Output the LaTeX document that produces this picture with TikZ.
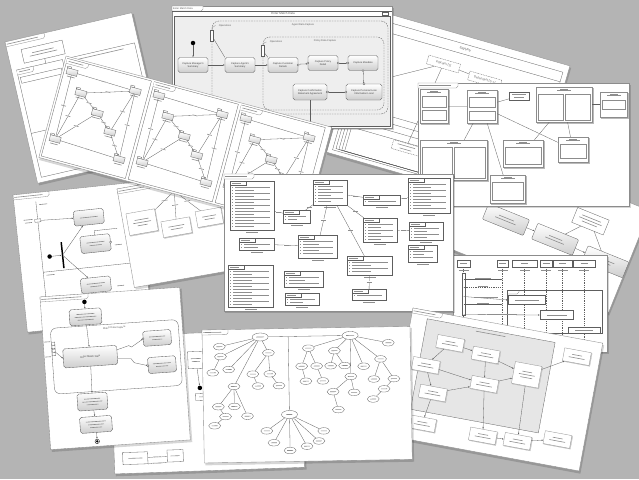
\documentclass[tikz,border=0pt]{standalone}
\usepackage{fontspec}
\setmainfont{Liberation Sans}
\usetikzlibrary{arrows.meta,calc,positioning,shadows,shapes.geometric}
\definecolor{DeskGray}{HTML}{B4B4B4}
\definecolor{SheetEdge}{HTML}{8C8C8C}
\definecolor{InkGray}{HTML}{5E5E5E}
\definecolor{ScribbleGray}{HTML}{8E8E8E}
\definecolor{BoxShade}{HTML}{CDCDCD}
\definecolor{PanelTint}{HTML}{EEEEEE}
\definecolor{FrameTint}{HTML}{E6E6E6}
\newcommand{\sheetfont}{\fontsize{2.5}{2.9}\selectfont}
\newcommand{\titlefont}{\fontsize{3}{3.5}\selectfont}
\newcommand{\scribble}[1]{\textcolor{ScribbleGray}{\rule{#1pt}{0.6pt}}}
\tikzset{
  sheet/.style={draw=SheetEdge,fill=white,line width=0.35pt},
  sheetshadow/.style={fill=black,opacity=0.16},
  tabedge/.style={draw=SheetEdge,fill=white,line width=0.3pt},
  tabtext/.style={anchor=west,inner sep=0pt,font=\sheetfont,text=InkGray},
  wire/.style={draw=InkGray,line width=0.3pt},
  flow/.style={wire,-{Latex[length=1.8pt,width=1.4pt]}},
  lifeline/.style={draw=InkGray,line width=0.25pt,dash pattern=on 1pt off 0.8pt},
  dashframe/.style={draw=InkGray,line width=0.35pt,dash pattern=on 1.6pt off 1pt,rounded corners=7pt},
  dashbox/.style={draw=InkGray,line width=0.3pt,dash pattern=on 1pt off 0.7pt,fill=white,font=\titlefont,text=InkGray,inner sep=1pt,minimum width=33pt,minimum height=9pt,align=center},
  actionbox/.style={draw=InkGray,line width=0.35pt,rounded corners=1.8pt,top color=white,bottom color=BoxShade,align=center,font=\sheetfont,text=black!75,inner sep=0.4pt,minimum width=30pt,minimum height=15pt},
  startdot/.style={circle,fill=black,inner sep=0pt,minimum size=4.5pt},
  enddot/.style={circle,draw=black,fill=white,inner sep=0pt,minimum size=4.5pt,line width=0.35pt},
  forkbar/.style={fill=black,inner sep=0pt,minimum width=1.5pt,minimum height=26pt},
  portdot/.style={circle,draw=InkGray,fill=white,inner sep=0pt,minimum size=2.2pt,line width=0.3pt},
  portbox/.style={draw=InkGray,fill=white,inner sep=0pt,minimum width=6pt,minimum height=3pt,line width=0.3pt},
  opsicon/.style={draw=InkGray,fill=white,inner sep=0pt,minimum width=3pt,minimum height=11pt,line width=0.3pt},
  pkgbox/.style={draw=InkGray,line width=0.3pt,top color=white,bottom color=BoxShade,minimum width=11pt,minimum height=6pt,inner sep=0pt},
  pkgtab/.style={draw=InkGray,line width=0.3pt,fill=white},
  compnode/.style={draw=SheetEdge,line width=0.3pt,fill=white,inner sep=0.5pt,align=center,font=\sheetfont,
    copy shadow={shadow xshift=0.8pt,shadow yshift=-0.8pt,fill=BoxShade,draw=SheetEdge!60,line width=0.2pt}},
  innerbox/.style={draw=SheetEdge,line width=0.25pt,fill=white},
  listbox/.style={draw=InkGray,line width=0.3pt,fill=white,inner sep=0pt,align=center,font=\sheetfont},
  procbox/.style={draw=InkGray,line width=0.3pt,rounded corners=1pt,top color=white,bottom color=BoxShade,minimum width=44pt,minimum height=17pt,align=center,font=\sheetfont,inner sep=0.5pt},
  notebox/.style={draw=InkGray,line width=0.3pt,fill=white,minimum width=34pt,minimum height=16pt,align=center,font=\sheetfont,inner sep=0.5pt},
  headbox/.style={draw=InkGray,line width=0.3pt,fill=white,minimum height=7pt,inner sep=0pt,font=\sheetfont},
  bubble/.style={ellipse,draw=InkGray,line width=0.3pt,fill=white,minimum width=12pt,minimum height=6.5pt,inner sep=0pt,font=\sheetfont},
  edgetag/.style={fill=white,inner sep=0.3pt,font=\sheetfont}
}
% one sheet of paper with its drop shadow, local origin at its top left corner
\newcommand{\papersheet}[2]{%
  \fill[sheetshadow] (1,1.6) rectangle (#1+1.8,#2+2.4);
  \draw[sheet] (0,0) rectangle (#1,#2);}
\newcommand{\frametab}[2]{%
  \draw[tabedge] (0,0) -- (#1,0) -- (#1,3.2) -- (#1-1.8,5) -- (0,5) -- cycle;
  \node[tabtext] (tablabel) at (1,2.6) {#2};}
% name, x1, y1, x2, y2
\newcommand{\listpanel}[5]{%
  \node[listbox,minimum width={#4-#2},minimum height={#5-#3}] (#1) at ({(#2+#4)/2},{(#3+#5)/2}) {};
  \draw[listbox] (#2,#3) rectangle ({#2+min(16,#4-#2-4)},#3+4);
  \fill[ScribbleGray] (#2+1.5,#3+2.2) rectangle ++(9,0.6);
  \pgfmathtruncatemacro{\rowcount}{max(1,(#5-#3-6)/3)}
  \foreach \rw in {1,...,\rowcount}{
    \fill[ScribbleGray] (#2+2,#3+4.2+3*\rw) rectangle ++(1.3,-1.3);
    \fill[ScribbleGray] (#2+4.5,#3+3.9+3*\rw) rectangle ++({(#4-#2-9)*(0.55+0.45*mod(\rw,2))},-0.6);}
  \fill[ScribbleGray] ({(#2+#4)/2-6},#5+2.2) rectangle ++(12,0.6);}
\newcommand{\comphead}[1]{%
  \fill[ScribbleGray] ($(#1.north)+(-4,1.8)$) rectangle ++(8,0.5);
  \fill[ScribbleGray] ($(#1.north)+(-7,3.4)$) rectangle ++(14,0.6);}
\newcommand{\compinner}[3]{%
  \draw[innerbox] ($(#1.north west)+(2,#2)$) rectangle ($(#1.south east)+(-2,-#3)$);}
\newcommand{\compsplit}[1]{%
  \draw[innerbox] ($(#1.north west)+(2,7)$) rectangle ($(#1.south)+(-1,-2)$);
  \draw[innerbox] ($(#1.north)+(1,7)$) rectangle ($(#1.south east)+(-2,-2)$);}

\begin{document}
\begin{tikzpicture}[x=1pt,y=-1pt]
  \useasboundingbox (0,0) rectangle (639,479);
  \clip (0,0) rectangle (639,479);
  \fill[DeskGray] (0,0) rectangle (639,479);

  % eligibility stack, back right
  \begin{scope}[shift={(368,8)},rotate=-16,transform shape]
    \papersheet{210}{150}
    \frametab{24}{Eligibility}
    \draw[wire] (5,8) rectangle (205,146);
    \draw[wire] (5,18) -- (205,18);
    \foreach \k in {0,1,2,3}
      \draw[wire] (8+3*\k,98+7*\k) rectangle (200-3*\k,144);
    \node[font=\titlefont,text=InkGray] (dtitle) at (105,13) {Eligibility};
    \node[dashbox] (dind) at (88,33) {Indicator [1]};
    \node[dashbox] (ddep) at (132,37) {Dependent [0..1]};
    \node[dashbox,minimum width=26pt] (dval) at (24,70) {\scribble{16}};
    \node[dashbox,minimum width=28pt] (dcond) at (75,124) {\scribble{18}\\\scribble{12}};
    \draw[wire] (dind) -- (ddep);
    \draw[wire] (dind) -- (dval);
    \draw[wire] (dind) -- (dcond);
  \end{scope}

  % eligibility summary, top left
  \begin{scope}[shift={(5,42)},rotate=13,transform shape]
    \papersheet{130}{145}
    \frametab{40}{\scribble{32}}
    \node[listbox,minimum width=42pt,minimum height=14pt] (aset) at (35,18) {\scribble{22}\\\scribble{28}};
    \draw[wire] (5,30) rectangle (52,140);
    \draw[wire] (58,30) rectangle (126,140);
    \draw[tabedge] (5,30) -- (22,30) -- (22,33) -- (20,35) -- (5,35);
    \fill[ScribbleGray] (7,32) rectangle ++(11,0.6);
    \fill[ScribbleGray] (64,33) rectangle ++(50,0.6);
    \draw[wire] (7,38) rectangle (49,44);
    \draw[wire] (5,95) -- (52,95);
    \coordinate (asplit) at (35,30);
    \draw[wire] (aset) -- (asplit);
  \end{scope}

  % enter match data
  \begin{scope}[shift={(172,6)}]
    \papersheet{220}{122}
    \frametab{31}{Enter Match Data}
    \draw[wire] (0,5) -- (220,5);
    \node[font=\titlefont,text=InkGray] (ctitle) at (111,7.6) {Enter Match Data};
    \draw[wire] (210,6.2) rectangle (216,9);
    \fill[PanelTint] (2,10) rectangle (218,120);
    \draw[wire] (2,10) rectangle (218,120);
    \draw[dashframe] (40,15) rectangle (216,108);
    \draw[dashframe] (91,31) rectangle (212,104);
    \node[font=\sheetfont,text=InkGray] (cagentlbl) at (131,19) {Agent Data Capture};
    \node[font=\sheetfont,text=InkGray] (cpolicylbl) at (153,35) {Policy Data Capture};
    \node[startdot] (cinit) at (21,37) {};
    \node[actionbox] (cmgr) at (21,59) {Capture Manager's\\Summary};
    \node[actionbox] (cagent) at (68,59) {Capture Agent's\\Summary};
    \node[actionbox] (ccust) at (111,59) {Capture Customer\\Details};
    \node[actionbox] (cpol) at (151,57) {Capture Policy\\Detail};
    \node[actionbox] (cmand) at (191,57) {Capture Mandate};
    \node[actionbox,minimum width=36pt,minimum height=16pt] (cloan) at (192,86) {Capture Personal Loan\\Information Local};
    \node[actionbox,minimum width=34pt,minimum height=16pt] (cconf) at (138,86) {Capture Confirmation\\Statement Agreement};
    \draw[flow] (cinit) -- (cmgr);
    \draw[flow] (cmgr) -- (cagent);
    \draw[flow] (cagent) -- (ccust);
    \draw[flow] (ccust) -- (cpol);
    \draw[flow] (cpol) -- (cmand);
    \draw[flow] (cmand) -- (cloan);
    \draw[flow] (cloan) -- (cconf);
    \coordinate (cexit) at (138,122);
    \draw[wire] (cconf) -- (cexit);
    \foreach \anc in {ccust.east,cpol.west,cpol.east,cmand.west,cmand.south,cloan.north,cloan.west,cconf.east}
      \node[portdot] at (\anc) {};
    \node[opsicon] (cops1) at (40,30) {};
    \node[opsicon] (cops2) at (91,45) {};
    \draw[wire] (cops1) -- (cagent.north west);
    \draw[wire] (cops2) -- (ccust.north west);
    \node[font=\sheetfont,text=InkGray] (copsl1) at (53,19.5) {Operations};
    \node[font=\sheetfont,text=InkGray] (copsl2) at (104,36) {Operations};
    \draw[wire,dash pattern=on 0.8pt off 0.6pt] (copsl1.west) to[bend right=40] (cops1.north);
    \draw[wire,dash pattern=on 0.8pt off 0.6pt] (copsl2.west) to[bend right=40] (cops2.north);
  \end{scope}

  % swim lanes, left middle
  \begin{scope}[shift={(13,195)},rotate=6,transform shape]
    \papersheet{125}{138}
    \frametab{36}{\scribble{28}}
    \draw[wire] (22,9) -- (22,138);
    \draw[wire] (22,80) -- (125,80);
    \fill[ScribbleGray] (25,12) rectangle ++(8,0.6);
    \fill[ScribbleGray] (25,83) rectangle ++(8,0.6);
    \node[startdot] (ginit) at (30,65) {};
    \node[forkbar] (gfork) at (43,65) {};
    \node[actionbox] (gapp) at (73,30) {\scribble{18}};
    \node[actionbox,minimum height=17pt] (gchk) at (77,57) {\scribble{18}\\\scribble{12}};
    \node[actionbox] (grev) at (73,98) {\scribble{18}\\\scribble{12}};
    \node[portbox] (gin) at (22,28) {};
    \fill[ScribbleGray] (8,26) rectangle ++(9,0.6);
    \fill[ScribbleGray] (9,29) rectangle ++(7,0.6);
    \draw[flow] (gin) -- (gapp);
    \draw[flow] (ginit) -- (gfork);
    \draw[flow] (gfork) -- (gapp);
    \draw[flow] (gfork) -- (grev);
    \node[portdot] (gout) at (gchk.east) {};
    \fill[ScribbleGray] (96,60) rectangle ++(7,0.6);
    \fill[ScribbleGray] (94,101) rectangle ++(7,0.6);
    \coordinate (gtop) at (77,44);
    \draw[wire] (gchk) -- (gtop) -- (100,44);
  \end{scope}

  % application components
  \begin{scope}[shift={(117,189)},rotate=10,transform shape]
    \papersheet{125}{100}
    \frametab{34}{\scribble{26}}
    \coordinate (hhub) at (56,12);
    \node[compnode,minimum width=29pt,minimum height=22pt] (hfee) at (19,37) {\scribble{14}\\\scribble{18}\\\scribble{10}};
    \node[compnode,minimum width=29pt,minimum height=16pt] (hdoc) at (52,48) {\scribble{16}\\\scribble{12}};
    \node[compnode,minimum width=26pt,minimum height=16pt] (hpay) at (86,44) {\scribble{14}\\\scribble{10}};
    \foreach \dst in {hfee,hdoc,hpay}
      \draw[wire] (hhub) -- node[edgetag]{\scribble{6}} (\dst);
  \end{scope}

  % package panels
  \begin{scope}[shift={(66,56)},rotate=-15,transform shape]
    \papersheet{275}{105}
    \foreach \px in {0,90,180}{
      \draw[wire] (\px+2,2) rectangle (\px+89,103);
      \draw[tabedge] (\px+2,2) -- (\px+24,2) -- (\px+24,5) -- (\px+22,7) -- (\px+2,7);
      \fill[ScribbleGray] (\px+4,4.2) rectangle ++(15,0.6);
      \foreach \nm/\qx/\qy in {a/10/14,b/24/32,c/45/47,d/62/62,e/11/83,f/78/86,g/76/16}{
        \node[pkgbox] (pk\px\nm) at (\px+\qx,\qy) {};
        \draw[pkgtab] (pk\px\nm.north west) rectangle ++(4,-1.6);
        \fill[ScribbleGray] ($(pk\px\nm.south)+(-4,1.6)$) rectangle ++(8,0.6);
      }
      \foreach \src/\dst in {a/g,a/e,g/b,g/d,b/c,c/d,c/e,b/e,e/f,g/f,d/f}
        \draw[wire] (pk\px\src) -- node[edgetag]{\scribble{5}} (pk\px\dst);
    }
  \end{scope}

  % rotated process sheet, right
  \begin{scope}[shift={(455,132)},rotate=-22,transform shape]
    \papersheet{210}{110}
    \node[procbox] (mreq) at (80,62) {\scribble{16}\\\scribble{22}};
    \node[procbox] (mchk) at (133,62) {\scribble{14}\\\scribble{20}};
    \node[notebox] (mnote) at (159,32) {\scribble{20}\\\scribble{24}\\\scribble{16}};
    \node[procbox] (mend) at (188,64) {\scribble{18}\\\scribble{12}};
    \draw[flow] (mreq) -- (mchk);
    \draw[flow] (mchk) -- (mend);
    \draw[wire] (mnote) -- (mchk);
    \draw[wire] (mnote) -- (mend);
  \end{scope}

  % component structure, upper right
  \begin{scope}[shift={(418,83)}]
    \papersheet{211}{123}
    \frametab{40}{\scribble{32}}
    \node[compnode,minimum width=28pt,minimum height=34pt] (eacct) at (16,23) {};
    \node[compnode,minimum width=30pt,minimum height=33pt] (eprod) at (64,23.5) {};
    \node[notebox,minimum width=20pt,minimum height=8pt] (enote) at (101,13) {\scribble{14}\\\scribble{10}};
    \node[compnode,minimum width=56pt,minimum height=35pt] (epol) at (146,21.5) {};
    \node[compnode,minimum width=27pt,minimum height=25pt] (erule) at (195.5,21.5) {};
    \node[compnode,minimum width=67pt,minimum height=40pt] (eclaim) at (35.5,77) {};
    \node[compnode,minimum width=40pt,minimum height=27pt] (eprice) at (105,70.5) {};
    \node[compnode,minimum width=30pt,minimum height=25pt] (edoc) at (155,66.5) {};
    \node[compnode,minimum width=35pt,minimum height=28pt] (epay) at (89.5,106) {};
    \foreach \nd in {eacct,eprod,epol,erule,eclaim,eprice,edoc,epay}
      \comphead{\nd};
    \compinner{eacct}{7}{16}
    \compinner{eacct}{21}{3}
    \compinner{eprod}{7}{16}
    \compinner{eprod}{21}{3}
    \compsplit{epol}
    \compinner{erule}{8}{8}
    \compsplit{eclaim}
    \compinner{eprice}{7}{3}
    \compinner{edoc}{7}{4}
    \compinner{epay}{7}{3}
    \foreach \src/\dst in {eacct/eprod,eprod/enote,epol/erule,eprod/eclaim,eprod/epay,eprod/edoc,epol/eprice,epol/edoc}
      \draw[wire] (\src) -- (\dst);
  \end{scope}

  % sequence diagram, right middle
  \begin{scope}[shift={(453,255)}]
    \papersheet{154}{97}
    \foreach \nm/\cx/\hw in {sa/10.5/13,sb/49.5/11,sc/71.5/25,sd/93/12,se/109.5/19,sf/131/22}{
      \node[headbox,minimum width=\hw pt] (\nm) at (\cx,8.5) {\scribble{7}};
      \coordinate (foot\nm) at (\cx,95);
      \draw[lifeline] (\nm) -- (foot\nm);
      \fill[ScribbleGray] (\cx-5,14.5) rectangle ++(10,0.5);
    }
    \draw[wire,fill=white] (9,18) rectangle (12,60);
    \draw[wire] (54,35) rectangle (149,78);
    \draw[wire] (54,39) -- (64,39) -- (66,37) -- (66,35);
    \node[listbox,minimum width=37pt,minimum height=9pt] (sbox1) at (73.5,45) {\scribble{24}};
    \node[listbox,minimum width=33pt,minimum height=9pt] (sbox2) at (103.5,60) {\scribble{20}};
    \node[listbox,minimum width=32pt,minimum height=6pt] (sbox3) at (131,75) {\scribble{18}};
    \draw[flow] ($(sa)+(0,16)$) -- node[above=0.2pt,inner sep=0pt]{\scribble{16}} ($(sb)+(0,16)$);
    \draw[flow,dash pattern=on 1pt off 0.8pt] ($(sb)+(0,24)$) -- node[above=0.2pt,inner sep=0pt]{\scribble{10}} ($(sa)+(0,24)$);
    \draw[flow] ($(sa)+(0,33)$) -- node[above=0.2pt,inner sep=0pt]{\scribble{24}} (sbox1.west);
    \draw[flow] ($(sa)+(0,41)$) -- node[above=0.2pt,inner sep=0pt]{\scribble{12}} ($(sb)+(0,41)$);
    \draw[flow] ($(sa)+(0,51)$) -- node[above=0.2pt,inner sep=0pt]{\scribble{30}} (sbox2.west);
  \end{scope}

  % use case lists, centre
  \begin{scope}[shift={(224,174)}]
    \papersheet{229}{137}
    \frametab{30}{\scribble{22}}
    \listpanel{fa}{6}{7}{50}{56}
    \listpanel{fb}{59}{36}{86}{49}
    \listpanel{fc}{89}{6}{123}{31}
    \listpanel{fd}{139}{21}{176}{31}
    \listpanel{fe}{139}{44}{173}{68}
    \listpanel{ff}{74}{61}{113}{84}
    \listpanel{fg}{15}{64}{50}{76}
    \listpanel{fh}{4}{91}{49}{133}
    \listpanel{fi}{60}{97}{99}{113}
    \listpanel{fj}{61}{119}{95}{131}
    \listpanel{fk}{123}{82}{168}{101}
    \listpanel{fl}{128}{115}{162}{126}
    \listpanel{fm}{184}{4}{226}{39}
    \listpanel{fn}{185}{48}{219}{66}
    \listpanel{fo}{184}{71}{213}{88}
    \foreach \src/\dst in {fa/fb,fc/fb,fc/fd,fc/fe,fc/ff,fc/fk,fg/ff,fk/fl,fd/fm,fe/fn}
      \draw[wire] (\src) -- node[edgetag]{\scribble{5}} (\dst);
  \end{scope}

  % component frame, lower right
  \begin{scope}[shift={(413,308)},rotate=-10.5,transform shape]
    \papersheet{193}{130}
    \frametab{30}{\scribble{22}}
    \draw[wire,fill=FrameTint] (16,8) rectangle (146,100);
    \fill[ScribbleGray] (66,11) rectangle ++(30,0.6);
    \foreach \nm/\nx/\ny in {na/43/28,nb/80/33,nd/23/54,ne/84/62,ng/35/80,nh/170/18,ni/30/112,nj/92/113,nk/127/112,nl/166/103}
      \node[compnode,minimum width=27pt,minimum height=13pt] (\nm) at (\nx,\ny) {\scribble{10}\\\scribble{16}};
    \node[compnode,minimum width=27pt,minimum height=22pt] (nc) at (124,45) {\scribble{10}\\\scribble{16}\\\scribble{12}};
    \foreach \src/\dst in {na/nb,na/nd,nb/ne,nd/ne,nb/nc,ne/nc,nd/ng,ng/ne,ne/nj,nc/nk,nk/nl,nj/nk,nc/nh,ng/ni}
      \draw[flow] (\src) -- (\dst);
  \end{scope}

  % class sheet under the bottom row
  \begin{scope}[shift={(110,336)},rotate=2,transform shape]
    \papersheet{190}{138}
    \node[listbox,minimum width=25pt,minimum height=12pt] (jcov) at (21,123) {\scribble{14}};
    \node[listbox,minimum width=16pt,minimum height=12pt] (jpol) at (61,122) {\scribble{9}};
    \draw[wire] (jcov) -- node[edgetag]{\scribble{8}} (jpol);
    \draw[wire] (jcov.south east) -- node[edgetag]{\scribble{10}} (jpol.south west);
    \node[listbox,minimum width=16pt,minimum height=17pt] (jform) at (85,27) {\scribble{10}\\\scribble{8}};
    \node[startdot] (jdot) at (88,55) {};
    \node[listbox,minimum width=17pt,minimum height=7pt] (jstep) at (92,64) {\scribble{10}};
    \node[enddot] (jend) at (98,90) {};
    \draw[flow] (jform) -- (jdot);
    \draw[flow] (jstep) -- (jend);
  \end{scope}

  % capture match summary, bottom left
  \begin{scope}[shift={(40,297)},rotate=4,transform shape]
    \papersheet{140}{153}
    \frametab{48}{\scribble{40}}
    \node[startdot] (iinit) at (44,8) {};
    \node[actionbox,minimum width=32pt,minimum height=16pt] (iopen) at (44,23) {\scribble{18}\\\scribble{22}\\\scribble{16}};
    \draw[wire,rounded corners=6pt] (8,32) rectangle (136,98);
    \node[font=\sheetfont,text=InkGray] (ilabel) at (72,36) {Match Data Capture};
    \node[actionbox,minimum width=54pt,minimum height=19pt] (ienter) at (46,63) {Enter Match Data};
    \node[actionbox,minimum width=28pt] (ierra) at (114,49) {\scribble{16}\\\scribble{10}};
    \node[actionbox,minimum width=28pt,minimum height=16pt] (ierrb) at (117,76) {\scribble{18}\\\scribble{12}};
    \node[actionbox,minimum width=30pt,minimum height=17pt] (iconf) at (45,108) {\scribble{16}\\\scribble{20}\\\scribble{12}};
    \node[actionbox,minimum width=32pt,minimum height=16pt] (iprod) at (47,131) {\scribble{20}\\\scribble{16}\\\scribble{12}};
    \node[enddot] (iend) at (47,148) {};
    \fill (iend) circle (1.3);
    \draw[flow] (iinit) -- (iopen);
    \draw[flow] (iopen) -- (ienter);
    \draw[flow] (ienter) -- (iconf);
    \draw[flow] (iconf) -- (iprod);
    \draw[flow] (iprod) -- (iend);
    \draw[flow] ($(ienter.east)+(0,-5)$) -- ($(ierra.west)!0.55!(ienter.east)+(0,-2)$) -- ($(ierra.west)!0.45!(ienter.east)+(0,1)$) -- (ierra.west);
    \draw[flow] ($(ienter.east)+(0,4)$) -- ($(ierrb.west)!0.55!(ienter.east)+(0,-1)$) -- ($(ierrb.west)!0.45!(ienter.east)+(0,2)$) -- (ierrb.west);
    \node[portdot] (iporta) at (ierra.west) {};
    \node[portdot] (iportb) at (ierrb.west) {};
    \foreach \k in {0,1,2,3}
      \draw[wire,fill=white] (8.5,46+3.5*\k) rectangle ++(3,3);
    \fill[ScribbleGray] (1,45) rectangle ++(6,0.6);
    \fill[ScribbleGray] (1,60) rectangle ++(6,0.6);
    \coordinate (iport) at (11.5,56);
    \draw[flow] (iport) -- (ienter.west);
  \end{scope}

  % mind map, bottom centre
  \begin{scope}[shift={(202,330)},rotate=1,transform shape]
    \papersheet{208}{133}
    \frametab{26}{\scribble{18}}
    \node[bubble,minimum width=16pt,minimum height=8pt] (kA) at (58,8) {\scribble{8}};
    \node[bubble,minimum width=16pt,minimum height=8pt] (kB) at (148,8) {\scribble{8}};
    \node[bubble,minimum width=16pt,minimum height=8pt] (kC) at (86,86) {\scribble{6}};
    \foreach \nm/\bx/\by in {k1/17/17,k2/18/27,k3/10/43,k4/26/40,k5/66/24,k6/50/45,k7/67/45,k8/55/57,
        k9/76/57,k10/31/57,k11/15/77,k12/31/77,k13/44/87,k14/22/87,k15/11/96,
        r1/106/20,r2/132/23,r3/186/16,r4/99/38,r5/114/38,r6/128/38,r7/142/38,r8/161/39,r9/178/32,
        r10/103/53,r11/120/53,r12/148/49,r13/130/64,r14/151/65,r15/135/82,r16/171/52,r17/191/52,
        r18/181/62,r19/170/72,b1/63/102,b2/70/114,b3/86/122,b4/103/118,b5/115/113,b6/120/103}
      \node[bubble] (\nm) at (\bx,\by) {\scribble{6}};
    \draw[wire] (kA) -- (kB);
    \coordinate (ktrunk) at (86,8);
    \draw[wire] (ktrunk) -- (kC);
    \foreach \src/\dst in {kA/k1,kA/k2,k2/k3,kA/k4,kA/k5,k5/k6,k5/k7,k6/k8,k7/k9,kA/k10,k10/k11,
        k10/k12,k10/k13,k11/k14,k14/k15,kB/r1,kB/r2,kB/r3,r1/r4,r1/r5,r2/r6,r2/r7,kB/r8,kB/r9,
        r4/r10,r5/r11,kB/r12,r12/r13,r12/r14,r13/r15,r9/r16,r9/r17,r17/r18,r18/r19,
        kC/b1,kC/b2,kC/b3,kC/b4,kC/b5,kC/b6}
      \draw[wire] (\src) -- (\dst);
  \end{scope}
\end{tikzpicture}
\end{document}
